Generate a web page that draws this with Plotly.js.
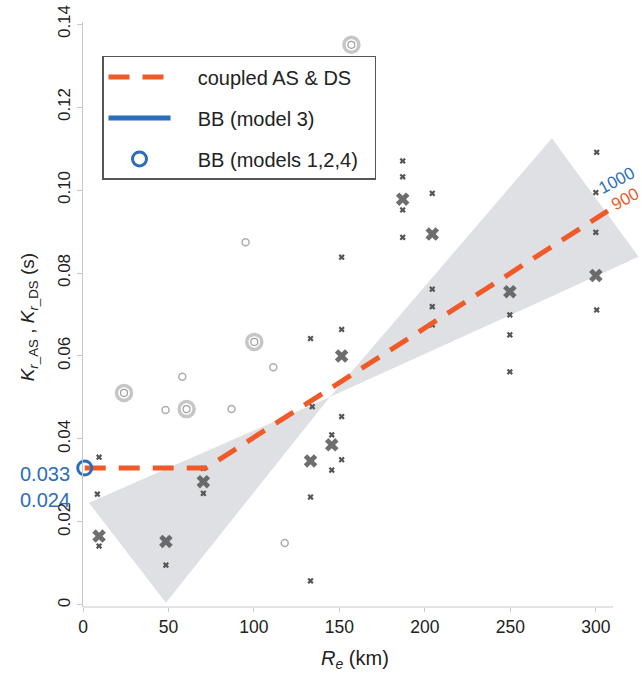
<!DOCTYPE html>
<html>
<head>
<meta charset="utf-8">
<script src="https://cdn.plot.ly/plotly-3.0.1.min.js"></script>
<style>
  html, body { margin: 0; padding: 0; background: #fff; }
  #chart { width: 642px; height: 677px; }
</style>
</head>
<body>
<div id="chart"></div>
<script>
// Individual estimates (small crosses)
const singleX = [9.4, 8.4, 9.4, 8.4, 48.5, 70.4, 70.4,
  133.1, 134.1, 133.1, 133.1, 145.5, 145.5,
  151.3, 151.3, 151.3, 151.3,
  187, 187, 187, 187,
  204.3, 204.3, 204.3, 204.3,
  249.7, 249.7, 249.7,
  300.5, 300, 300, 300.5];
const singleY = [0.0356, 0.0267, 0.0142, -0.0014, 0.0096, 0.0329, 0.0269,
  0.0642, 0.0478, 0.026, 0.0058, 0.041, 0.0325,
  0.0838, 0.0664, 0.0454, 0.035,
  0.107, 0.1032, 0.0952, 0.0886,
  0.0992, 0.0761, 0.0719, 0.0675,
  0.0699, 0.0651, 0.0562,
  0.1091, 0.0994, 0.0898, 0.0711];

// Station means (large crosses)
const meanX = [9.4, 48.5, 70.4, 133.1, 145.5, 151.3, 187, 204.3, 249.7, 300];
const meanY = [0.0166, 0.0153, 0.0297, 0.0347, 0.0386, 0.060, 0.0978, 0.0894, 0.0755, 0.0794];

// Discarded estimates (small and large rings)
const ringSmallX = [95.1, 111.3, 58.1, 48.3, 86.9, 118];
const ringSmallY = [0.0874, 0.0573, 0.055, 0.047, 0.0472, 0.0149];
const ringLargeX = [157, 24, 100.2, 60.6];
const ringLargeY = [0.135, 0.0511, 0.0634, 0.0472];

// Coupled AS & DS fit
const fitX = [1, 72, 307];
const fitY = [0.033, 0.033, 0.095];

// BB models 1,2,4
const bbX = [1];
const bbY = [0.033];

// Uncertainty band (two triangles meeting at the pivot)
const bandX = [3.5, 144.4, 274.3, 325, 144.4, 48.5, 3.5];
const bandY = [0.0246, 0.0501, 0.1125, 0.0839, 0.0501, 0.0005, 0.0246];

const xTicks = [0, 50, 100, 150, 200, 250, 300];
const yTicks = [0, 0.02, 0.04, 0.06, 0.08, 0.10, 0.12, 0.14];
const yTickText = ['0', '0.02', '0.04', '0.06', '0.08', '0.10', '0.12', '0.14'];

const RED = '#f05a28';
const BLUE = '#2a6ebb';
const FONT = 'Liberation Sans, Arial, Helvetica, sans-serif';
const PAD = '\u00a0\u00a0\u00a0\u00a0';

const traces = [
  {
    x: bandX, y: bandY, mode: 'lines', fill: 'toself',
    fillcolor: '#dfe0e4', line: {width: 0}, showlegend: false, hoverinfo: 'skip'
  },
  {
    x: ringLargeX, y: ringLargeY, mode: 'markers', showlegend: false, cliponaxis: false,
    marker: {symbol: 'circle-open', size: 15, color: '#c6c6c6', line: {width: 3.5}}
  },
  {
    x: ringLargeX, y: ringLargeY, mode: 'markers', showlegend: false, cliponaxis: false,
    marker: {symbol: 'circle-open', size: 7, color: '#a0a0a0', line: {width: 1.2}}
  },
  {
    x: ringSmallX, y: ringSmallY, mode: 'markers', showlegend: false, cliponaxis: false,
    marker: {symbol: 'circle-open', size: 7, color: '#adadad', line: {width: 1.5}}
  },
  {
    x: meanX, y: meanY, mode: 'markers', showlegend: false, cliponaxis: false,
    marker: {symbol: 'x', size: 12, color: 'rgba(85,85,85,0.85)', line: {width: 0}}
  },
  {
    x: singleX, y: singleY, mode: 'markers', showlegend: false, cliponaxis: false,
    marker: {symbol: 'x', size: 5.5, color: '#555555', line: {width: 0}}
  },
  {
    x: fitX, y: fitY, mode: 'lines', name: PAD + 'coupled AS & DS',
    legendgroup: 'a', legendrank: 1,
    line: {color: RED, width: 5, dash: '21px,13px'}
  },
  {
    x: [null], y: [null], mode: 'lines', name: PAD + 'BB (model 3)',
    legendgroup: 'b', legendrank: 2,
    line: {color: BLUE, width: 5}
  },
  {
    x: bbX, y: bbY, mode: 'markers', name: PAD + 'BB (models 1,2,4)\u00a0\u00a0',
    legendgroup: 'c', legendrank: 3, cliponaxis: false,
    marker: {symbol: 'circle-open', size: 14, color: BLUE, line: {width: 3}}
  }
];

const layout = {
  width: 642, height: 677,
  margin: {l: 83, r: 0, t: 22, b: 70},
  paper_bgcolor: '#fff', plot_bgcolor: '#fff',
  font: {family: FONT, color: '#222'},
  showlegend: true,
  legend: {
    x: 0.034, y: 0.942, xanchor: 'left', yanchor: 'top',
    bgcolor: '#fff', bordercolor: '#555', borderwidth: 1.5,
    font: {family: FONT, size: 20, color: '#222'},
    itemwidth: 62, traceorder: 'grouped', tracegroupgap: 12
  },
  xaxis: {
    range: [0, 327], tickvals: xTicks, ticktext: xTicks.map(String),
    showline: false, showgrid: false, zeroline: false,
    ticks: 'outside', ticklen: 4, tickcolor: '#c8c8c8',
    tickfont: {family: FONT, size: 17.5, color: '#222'}
  },
  yaxis: {
    range: [-0.0005, 0.1405], tickvals: yTicks, ticktext: yTickText, tickangle: -90,
    showline: true, linecolor: '#c8c8c8', linewidth: 1, showgrid: false, zeroline: false,
    ticks: 'outside', ticklen: 5, tickcolor: '#c8c8c8',
    tickfont: {family: FONT, size: 17, color: '#222'}
  },
  shapes: [
    {type: 'line', xref: 'x', yref: 'paper', x0: 0, x1: 310, y0: 0, y1: 0,
     line: {color: '#c8c8c8', width: 1.2}, layer: 'below'}
  ],
  annotations: [
    {xref: 'x', yref: 'paper', x: 159, y: -0.065, yanchor: 'top', showarrow: false,
     text: '<i>R</i><sub><i>e</i></sub> (km)', font: {family: FONT, size: 20, color: '#222'}},
    {xref: 'paper', yref: 'y', x: -0.122, y: 0.0695, showarrow: false, textangle: -90,
     text: '<i>K</i><sub><i>r</i>_AS</sub> , <i>K</i><sub><i>r</i>_DS</sub> (s)',
     font: {family: FONT, size: 19, color: '#222'}},
    {xref: 'paper', yref: 'y', x: -0.02, y: 0.033, yshift: -6, xanchor: 'right', showarrow: false,
     text: '0.033', font: {family: FONT, size: 20, color: BLUE}},
    {xref: 'paper', yref: 'y', x: -0.02, y: 0.024, yshift: 5, xanchor: 'right', showarrow: false,
     text: '0.024', font: {family: FONT, size: 20, color: BLUE}},
    {xref: 'x', yref: 'y', x: 312.3, y: 0.1022, showarrow: false, textangle: -28,
     text: '1000', font: {family: FONT, size: 17, color: BLUE}},
    {xref: 'x', yref: 'y', x: 316.8, y: 0.0978, showarrow: false, textangle: -28,
     text: '900', font: {family: FONT, size: 17, color: RED}}
  ]
};

Plotly.newPlot('chart', traces, layout, {displayModeBar: false, staticPlot: true});
</script>
</body>
</html>
